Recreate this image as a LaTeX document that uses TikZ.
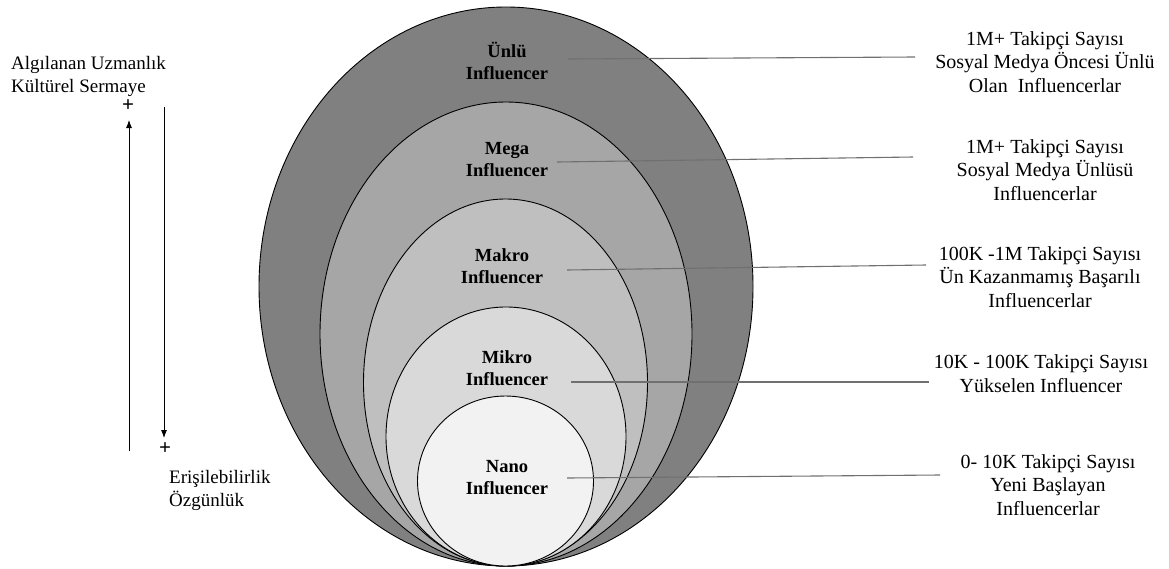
\documentclass[tikz,border=0pt]{standalone}
\usepackage{fontspec}
\setmainfont{Liberation Serif}
\usetikzlibrary{arrows.meta}
\definecolor{ringA}{HTML}{808080}
\definecolor{ringB}{HTML}{A6A6A6}
\definecolor{ringC}{HTML}{BFBFBF}
\definecolor{ringD}{HTML}{D9D9D9}
\definecolor{ringE}{HTML}{F2F2F2}
\definecolor{leader}{HTML}{707070}
\begin{document}
\begin{tikzpicture}[x=1pt,y=-1pt,
  ring/.style={draw=black,line width=0.9pt},
  tier/.style={font=\fontsize{18.5}{22}\selectfont\bfseries,align=center,inner sep=0pt},
  desc/.style={font=\fontsize{20}{23.5}\selectfont,align=center,inner sep=0pt},
  side/.style={font=\fontsize{19}{23}\selectfont,align=left,inner sep=0pt,anchor=west},
  plusmark/.style={font=\fontsize{21}{21}\selectfont\bfseries,inner sep=0pt},
  leaderline/.style={draw=leader,line width=1.1pt},
  axis/.style={draw=black,line width=0.8pt,-{Latex[length=8pt,width=6pt]}}]
\useasboundingbox (0,0) rectangle (1169,568);

% nested tiers, all touching at the bottom
\filldraw[ring,fill=ringA] (506,286.5) ellipse [x radius=247, y radius=279.5];
\filldraw[ring,fill=ringB] (506,334)   ellipse [x radius=186, y radius=232];
\filldraw[ring,fill=ringC] (505.5,382.5) ellipse [x radius=142, y radius=183.5];
\filldraw[ring,fill=ringD] (506,436.5) ellipse [x radius=120, y radius=129.5];
\filldraw[ring,fill=ringE] (505.5,481) ellipse [x radius=88, y radius=85];

% tier names
\node[tier] (unlu)  at (507,61)    {Ünlü\\Influencer};
\node[tier] (mega)  at (507,160)   {Mega\\Influencer};
\node[tier] (makro) at (502,266)   {Makro\\Influencer};
\node[tier] (mikro) at (507,368.5) {Mikro\\Influencer};
\node[tier] (nano)  at (507,477.5) {Nano\\Influencer};

% descriptions
\node[desc] (d1) at (1045,62)  {1M+ Takipçi Sayısı\\Sosyal Medya Öncesi Ünlü\\Olan\ \ Influencerlar};
\node[desc] (d2) at (1045,170) {1M+ Takipçi Sayısı\\Sosyal Medya Ünlüsü\\Influencerlar};
\node[desc] (d3) at (1040,277) {100K -1M Takipçi Sayısı\\Ün Kazanmamış Başarılı\\Influencerlar};
\node[desc] (d4) at (1041,373.5) {10K - 100K Takipçi Sayısı\\Yükselen Influencer};
\node[desc] (d5) at (1048,485) {0- 10K Takipçi Sayısı\\Yeni Başlayan\\Influencerlar};

% leader lines
\coordinate (a1) at (568,59);  \coordinate (b1) at (915,57);
\coordinate (a2) at (557,162); \coordinate (b2) at (913,157);
\coordinate (a3) at (567,270); \coordinate (b3) at (926,265);
\coordinate (a4) at (571,382); \coordinate (b4) at (929,382);
\coordinate (a5) at (567,478); \coordinate (b5) at (940,475);
\foreach \i in {1,...,5} {\draw[leaderline] (a\i) -- (b\i);}

% left scale
\node[side] (top) at (11,76.5) {Algılanan Uzmanlık\\Kültürel Sermaye};
\node[side] (bot) at (169,490.5) {Erişilebilirlik\\Özgünlük};
\node[plusmark] (ptop) at (128,106) {+};
\node[plusmark] (pbot) at (165,449) {+};
\coordinate (upstart) at (129,451);
\coordinate (downstart) at (164,107);
\draw[axis] (upstart) -- (129,120);
\draw[axis] (downstart) -- (164,438);
\end{tikzpicture}
\end{document}
